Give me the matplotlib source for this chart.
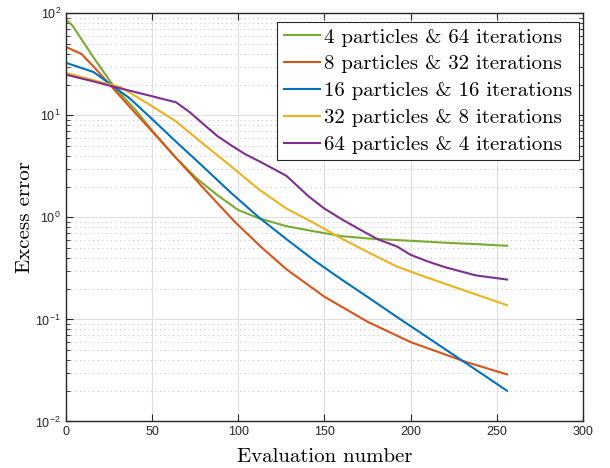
import numpy as np
import matplotlib
matplotlib.use("Agg")
import matplotlib.pyplot as plt
from matplotlib.ticker import LogLocator, NullFormatter

# =========================
# DATA
# =========================
labels = [
    "4 particles & 64 iterations",
    "8 particles & 32 iterations",
    "16 particles & 16 iterations",
    "32 particles & 8 iterations",
    "64 particles & 4 iterations",
]

x_p4 = [1, 4, 16, 28, 40, 52, 64, 76, 88, 100, 112, 128, 144, 160, 176, 192, 208, 224, 240, 256]
y_p4 = [84, 75, 37, 19, 11.5, 6.5, 3.8, 2.4, 1.65, 1.18, 0.98, 0.82, 0.73, 0.655, 0.62, 0.60, 0.58, 0.56, 0.545, 0.527]

x_p8 = [1, 9, 17, 37, 48, 64, 80, 98, 114, 128, 150, 175, 200, 232, 256]
y_p8 = [46, 40, 28.9, 12.1, 7.6, 3.82, 1.92, 0.905, 0.50, 0.31, 0.167, 0.095, 0.060, 0.0384, 0.0289]

x_p16 = [1, 16, 28, 37, 48, 64, 80, 96, 112, 128, 144, 160, 176, 192, 208, 224, 240, 256]
y_p16 = [32.3, 26.6, 19, 14.7, 9.9, 5.5, 3.1, 1.73, 1.0, 0.612, 0.38, 0.246, 0.162, 0.106, 0.070, 0.0461, 0.0304, 0.020]

x_p32 = [1, 32, 48, 64, 80, 96, 112, 128, 144, 160, 176, 192, 208, 224, 240, 256]
y_p32 = [25.8, 18.8, 12.9, 8.7, 5.2, 3.15, 1.88, 1.22, 0.88, 0.62, 0.45, 0.33, 0.263, 0.212, 0.171, 0.138]

x_p64 = [1, 16, 32, 48, 64, 72, 80, 88, 96, 104, 112, 120, 128, 141, 150, 160, 170, 181, 192,
         200, 210, 220, 238, 256]
y_p64 = [24.8, 21.5, 18.3, 15.7, 13.4, 10.7, 8.15, 6.25, 5.07, 4.17, 3.56, 3.02, 2.55, 1.6, 1.22,
         0.96, 0.77, 0.61, 0.52, 0.43, 0.37, 0.325, 0.27, 0.246]

series_x = [x_p4, x_p8, x_p16, x_p32, x_p64]
series_y = [y_p4, y_p8, y_p16, y_p32, y_p64]
colors = ["#77ac30", "#d95319", "#0072bd", "#edb120", "#7e2f8e"]

# =========================
# STYLE
# =========================
plt.rcParams["mathtext.fontset"] = "custom"
plt.rcParams["mathtext.rm"] = "Liberation Sans"
plt.rcParams["mathtext.it"] = "Liberation Sans:italic"
plt.rcParams["font.family"] = ["Liberation Sans", "DejaVu Sans"]

fig = plt.figure(figsize=(6.10, 4.68), dpi=100)
ax = fig.add_axes([0.108, 0.0994, 0.8475, 0.8722])

for xs, ys, c, lab in zip(series_x, series_y, colors, labels):
    ax.plot(xs, ys, color=c, lw=1.5, label=lab)

ax.set_yscale("log")
ax.set_xlim(0, 300)
ax.set_ylim(1e-2, 1e2)
ax.set_xticks(range(0, 301, 50))
ax.yaxis.set_major_locator(LogLocator(base=10, numticks=10))
ax.yaxis.set_minor_locator(LogLocator(base=10, subs=np.arange(2, 10), numticks=20))
ax.yaxis.set_minor_formatter(NullFormatter())

ax.grid(True, which="major", color="#dedede", lw=0.8, ls="-")
ax.grid(True, which="minor", axis="y", color="#c8c8c8", lw=0.8, ls=(0, (1, 3)))
ax.set_axisbelow(True)

ax.tick_params(which="both", direction="in", top=True, right=True, colors="#262626",
               labelsize=9)
ax.tick_params(which="major", length=5, width=0.8)
ax.tick_params(which="minor", length=3, width=0.6)
for sp in ax.spines.values():
    sp.set_color("#262626")
    sp.set_linewidth(1.0)

ax.set_xlabel("Evaluation number", family="cmr10", fontsize=15, labelpad=7)
ax.set_ylabel("Excess error", family="cmr10", fontsize=15, labelpad=1)

leg = ax.legend(loc="upper right", bbox_to_anchor=(0.9923, 0.9794),
                prop={"family": "cmr10", "size": 15},
                frameon=True, fancybox=False, edgecolor="#262626", framealpha=1,
                handlelength=1.75, handletextpad=0.2, labelspacing=0.4,
                borderpad=0.3, borderaxespad=0)
leg.get_frame().set_linewidth(0.8)

fig.savefig("out.png", dpi=100)
